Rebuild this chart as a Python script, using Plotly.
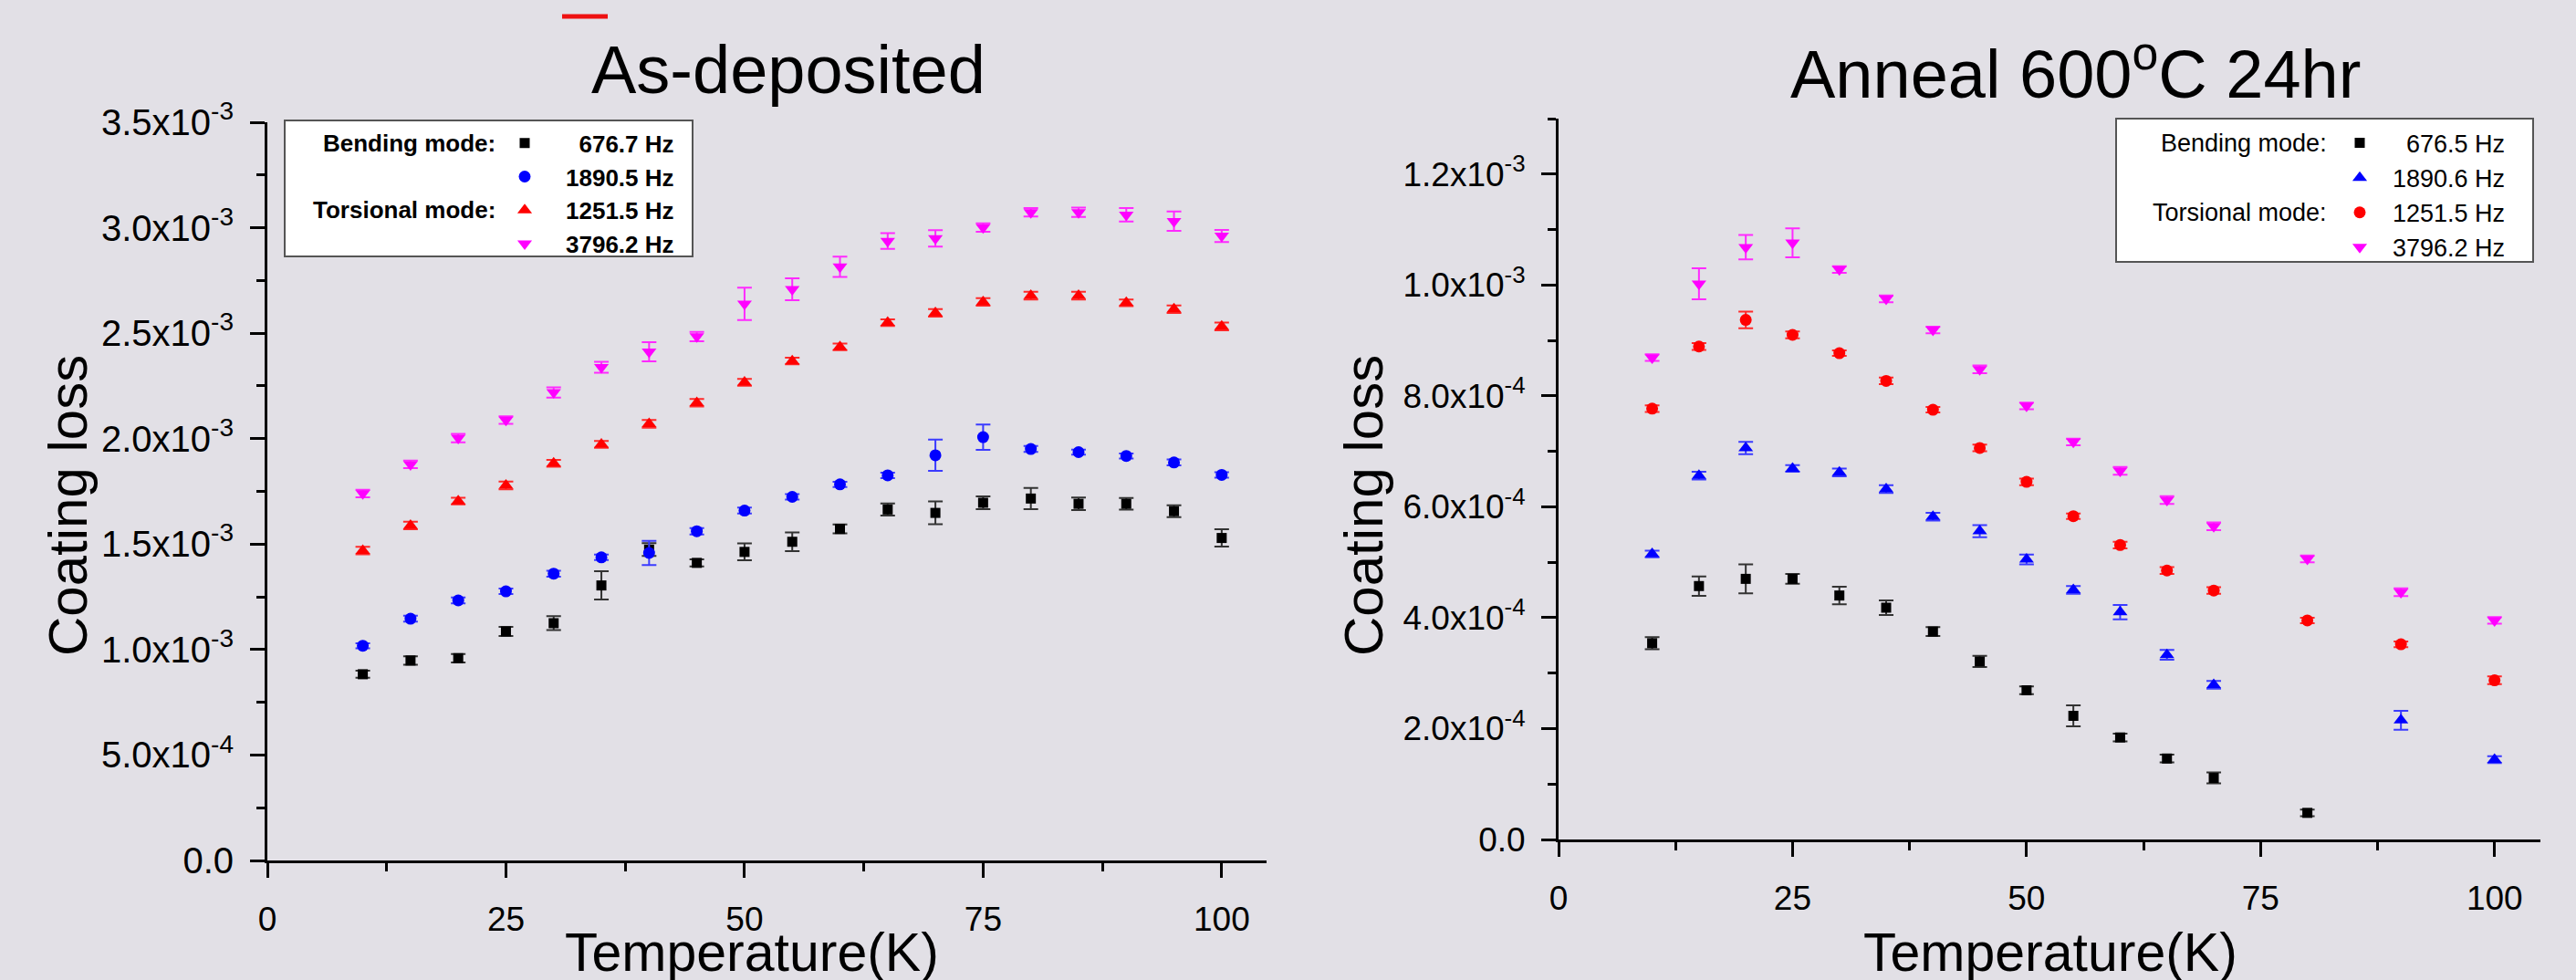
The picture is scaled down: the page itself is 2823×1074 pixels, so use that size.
import plotly.graph_objects as go

# ---------------- data: As-deposited ----------------
T_as = [10, 15, 20, 25, 30, 35, 40, 45, 50, 55, 60, 65, 70, 75, 80, 85, 90, 95, 100]

as_677 = [0.883e-3, 0.948e-3, 0.959e-3, 1.086e-3, 1.125e-3, 1.304e-3, 1.474e-3, 1.411e-3, 1.463e-3, 1.511e-3,
          1.572e-3, 1.664e-3, 1.648e-3, 1.696e-3, 1.716e-3, 1.691e-3, 1.691e-3, 1.656e-3, 1.529e-3]
as_677_err = [0.017e-3, 0.020e-3, 0.020e-3, 0.022e-3, 0.033e-3, 0.067e-3, 0.030e-3, 0.017e-3, 0.040e-3, 0.044e-3,
              0.021e-3, 0.029e-3, 0.054e-3, 0.030e-3, 0.050e-3, 0.030e-3, 0.028e-3, 0.028e-3, 0.041e-3]

as_1890 = [1.018e-3, 1.146e-3, 1.233e-3, 1.276e-3, 1.360e-3, 1.437e-3, 1.458e-3, 1.561e-3, 1.659e-3, 1.724e-3,
           1.783e-3, 1.826e-3, 1.921e-3, 2.007e-3, 1.951e-3, 1.936e-3, 1.918e-3, 1.887e-3, 1.828e-3]
as_1890_err = [0.012e-3, 0.014e-3, 0.014e-3, 0.013e-3, 0.014e-3, 0.013e-3, 0.057e-3, 0.015e-3, 0.014e-3, 0.013e-3,
               0.012e-3, 0.013e-3, 0.074e-3, 0.060e-3, 0.014e-3, 0.012e-3, 0.012e-3, 0.014e-3, 0.013e-3]

as_1251 = [1.469e-3, 1.588e-3, 1.704e-3, 1.778e-3, 1.883e-3, 1.973e-3, 2.070e-3, 2.170e-3, 2.267e-3, 2.368e-3,
           2.435e-3, 2.550e-3, 2.596e-3, 2.648e-3, 2.678e-3, 2.678e-3, 2.644e-3, 2.614e-3, 2.532e-3]
as_1251_err = [0.018e-3, 0.018e-3, 0.016e-3, 0.018e-3, 0.016e-3, 0.016e-3, 0.018e-3, 0.018e-3, 0.016e-3, 0.016e-3,
               0.016e-3, 0.016e-3, 0.018e-3, 0.018e-3, 0.018e-3, 0.018e-3, 0.016e-3, 0.018e-3, 0.018e-3]

as_3796 = [1.740e-3, 1.878e-3, 2.003e-3, 2.088e-3, 2.219e-3, 2.338e-3, 2.412e-3, 2.484e-3, 2.639e-3, 2.708e-3,
           2.815e-3, 2.937e-3, 2.949e-3, 3.001e-3, 3.073e-3, 3.073e-3, 3.061e-3, 3.031e-3, 2.961e-3]
as_3796_err = [0.018e-3, 0.018e-3, 0.020e-3, 0.018e-3, 0.024e-3, 0.026e-3, 0.045e-3, 0.022e-3, 0.077e-3, 0.052e-3,
               0.048e-3, 0.037e-3, 0.039e-3, 0.020e-3, 0.020e-3, 0.022e-3, 0.032e-3, 0.046e-3, 0.029e-3]

# ---------------- data: Anneal 600C 24hr ----------------
T_an_677 = [10, 15, 20, 25, 30, 35, 40, 45, 50, 55, 60, 65, 70, 80]
an_677 = [3.54e-4, 4.57e-4, 4.70e-4, 4.70e-4, 4.40e-4, 4.18e-4, 3.75e-4, 3.21e-4, 2.69e-4, 2.23e-4,
          1.84e-4, 1.46e-4, 1.11e-4, 0.48e-4]
an_677_err = [1.1e-5, 1.75e-5, 2.6e-5, 0.9e-5, 1.6e-5, 1.3e-5, 0.8e-5, 1.0e-5, 0.7e-5, 1.9e-5,
              0.7e-5, 0.7e-5, 1.0e-5, 0.6e-5]

T_an_1890 = [10, 15, 20, 25, 30, 35, 40, 45, 50, 55, 60, 65, 70, 90, 100]
an_1890 = [5.15e-4, 6.56e-4, 7.06e-4, 6.69e-4, 6.62e-4, 6.32e-4, 5.82e-4, 5.56e-4, 5.05e-4, 4.50e-4,
           4.10e-4, 3.33e-4, 2.79e-4, 2.15e-4, 1.44e-4]
an_1890_err = [0.6e-5, 0.7e-5, 1.1e-5, 0.6e-5, 0.7e-5, 0.7e-5, 0.7e-5, 1.1e-5, 0.9e-5, 0.7e-5,
               1.3e-5, 0.9e-5, 0.7e-5, 1.7e-5, 0.6e-5]

T_an = [10, 15, 20, 25, 30, 35, 40, 45, 50, 55, 60, 65, 70, 80, 90, 100]
an_1251 = [7.77e-4, 8.89e-4, 9.37e-4, 9.10e-4, 8.77e-4, 8.27e-4, 7.75e-4, 7.06e-4, 6.45e-4, 5.83e-4,
           5.31e-4, 4.85e-4, 4.49e-4, 3.95e-4, 3.52e-4, 2.87e-4]
an_1251_err = [0.6e-5, 0.6e-5, 1.5e-5, 0.6e-5, 0.5e-5, 0.6e-5, 0.5e-5, 0.6e-5, 0.6e-5, 0.5e-5,
               0.6e-5, 0.6e-5, 0.6e-5, 0.5e-5, 0.5e-5, 0.7e-5]

an_3796 = [8.69e-4, 10.02e-4, 10.68e-4, 10.76e-4, 10.28e-4, 9.75e-4, 9.19e-4, 8.48e-4, 7.82e-4, 7.17e-4,
           6.65e-4, 6.12e-4, 5.65e-4, 5.06e-4, 4.46e-4, 3.95e-4]
an_3796_err = [0.6e-5, 2.8e-5, 2.2e-5, 2.6e-5, 0.6e-5, 0.6e-5, 0.6e-5, 0.7e-5, 0.6e-5, 0.6e-5,
               0.7e-5, 0.7e-5, 0.7e-5, 0.6e-5, 0.7e-5, 0.6e-5]

# ---------------- tick labels ----------------
x_ticks = [0, 25, 50, 75, 100]
y_ticks_as = [0, 0.5e-3, 1.0e-3, 1.5e-3, 2.0e-3, 2.5e-3, 3.0e-3, 3.5e-3]
y_text_as = ["0.0", "5.0x10<sup>-4</sup>", "1.0x10<sup>-3</sup>", "1.5x10<sup>-3</sup>", "2.0x10<sup>-3</sup>",
             "2.5x10<sup>-3</sup>", "3.0x10<sup>-3</sup>", "3.5x10<sup>-3</sup>"]
y_ticks_an = [0, 2e-4, 4e-4, 6e-4, 8e-4, 1.0e-3, 1.2e-3]
y_text_an = ["0.0", "2.0x10<sup>-4</sup>", "4.0x10<sup>-4</sup>", "6.0x10<sup>-4</sup>", "8.0x10<sup>-4</sup>",
             "1.0x10<sup>-3</sup>", "1.2x10<sup>-3</sup>"]

W, H = 2823, 1074
BG = "#e2e0e6"
FONT = "Liberation Sans, Arial, Helvetica, sans-serif"
BLACK, BLUE, RED, MAGENTA = "#000000", "#0000ff", "#ff0000", "#ff00ff"
ERRC = {BLACK: "#333333", BLUE: "#3b3bff", RED: "#ff2a2a", MAGENTA: "#ff2aff"}


def px(x):
    return x / W


def py(y):
    return 1 - y / H


fig = go.Figure()


def add(xs, ys, es, name, color, symbol, size, xa, ya, legend):
    fig.add_trace(go.Scatter(
        x=xs, y=ys, mode="markers", name=name, xaxis=xa, yaxis=ya, legend=legend,
        marker=dict(color=color, symbol=symbol, size=size, line=dict(width=0)),
        error_y=dict(type="data", array=es, visible=True, color=ERRC[color], thickness=2, width=8),
    ))


FS = "\u2007"
add(T_as, as_677, as_677_err, FS + "676.7 Hz", BLACK, "square", 11, "x", "y", "legend")
add(T_as, as_1890, as_1890_err, "1890.5 Hz", BLUE, "circle", 13, "x", "y", "legend")
add(T_as, as_1251, as_1251_err, "1251.5 Hz", RED, "triangle-up", 14, "x", "y", "legend")
add(T_as, as_3796, as_3796_err, "3796.2 Hz", MAGENTA, "triangle-down", 14, "x", "y", "legend")

add(T_an_677, an_677, an_677_err, FS + "676.5 Hz", BLACK, "square", 11, "x2", "y2", "legend2")
add(T_an_1890, an_1890, an_1890_err, "1890.6 Hz", BLUE, "triangle-up", 14, "x2", "y2", "legend2")
add(T_an, an_1251, an_1251_err, "1251.5 Hz", RED, "circle", 13, "x2", "y2", "legend2")
add(T_an, an_3796, an_3796_err, "3796.2 Hz", MAGENTA, "triangle-down", 14, "x2", "y2", "legend2")


def axis_common(fs):
    return dict(
        showline=True, linewidth=3, linecolor="black", ticks="outside", ticklen=16, tickwidth=3,
        tickcolor="black", showgrid=False, zeroline=False, automargin=False,
        tickfont=dict(size=fs, family=FONT, color="black"),
    )


fig.update_layout(
    width=W, height=H, margin=dict(l=0, r=0, t=0, b=0, autoexpand=False),
    paper_bgcolor=BG, plot_bgcolor="rgba(0,0,0,0)",
    font=dict(family=FONT, color="black"),
    xaxis=dict(domain=[px(293), px(1388)], range=[0, 104.7], anchor="y", tickmode="array", tickvals=x_ticks,
               ticklabelstandoff=14,
               minor=dict(dtick=12.5, tick0=0, ticks="outside", ticklen=9, tickwidth=3, tickcolor="black"),
               **axis_common(37)),
    yaxis=dict(domain=[py(943), py(134)], range=[0, 3.5e-3], anchor="x", tickmode="array", tickvals=y_ticks_as,
               ticktext=y_text_as, ticklabelstandoff=10,
               minor=dict(dtick=0.25e-3, tick0=0, ticks="outside", ticklen=9, tickwidth=3, tickcolor="black"),
               **axis_common(40)),
    xaxis2=dict(domain=[px(1708), px(2784)], range=[0, 104.9], anchor="y2", tickmode="array", tickvals=x_ticks,
                ticklabelstandoff=14,
                minor=dict(dtick=12.5, tick0=0, ticks="outside", ticklen=9, tickwidth=3, tickcolor="black"),
                **axis_common(37)),
    yaxis2=dict(domain=[py(920), py(130)], range=[0, 1.3e-3], anchor="x2", tickmode="array", tickvals=y_ticks_an,
                ticktext=y_text_an, ticklabelstandoff=10,
                minor=dict(dtick=1e-4, tick0=0, ticks="outside", ticklen=9, tickwidth=3, tickcolor="black"),
                **axis_common(37)),
    legend=dict(x=px(530), y=py(133.3), xanchor="left", yanchor="top", bgcolor="rgba(0,0,0,0)", borderwidth=0,
                itemwidth=80, font=dict(size=26, family=FONT, color="black", weight="bold"), traceorder="normal"),
    legend2=dict(x=px(2550), y=py(132.5), xanchor="left", yanchor="top", bgcolor="rgba(0,0,0,0)", borderwidth=0,
                 itemwidth=62, font=dict(size=27, family=FONT, color="black"), traceorder="normal"),
    showlegend=True,
)

# legend frames
fig.add_shape(type="rect", xref="paper", yref="paper", x0=px(312), x1=px(759), y0=py(281), y1=py(132),
              fillcolor="white", line=dict(color="#555555", width=2), layer="above")
fig.add_shape(type="rect", xref="paper", yref="paper", x0=px(2319), x1=px(2776), y0=py(287), y1=py(130),
              fillcolor="white", line=dict(color="#555555", width=2), layer="above")
# small red mark at top
fig.add_shape(type="line", xref="paper", yref="paper", x0=px(616), x1=px(666), y0=py(18), y1=py(18),
              line=dict(color="#ee1111", width=5))

ann = []
# titles
ann.append(dict(text="As-deposited", x=px(864), y=py(76), font=dict(size=74)))
ann.append(dict(text="Anneal 600<sup>o</sup>C 24hr", x=px(2274), y=py(76), font=dict(size=74)))
# axis titles
ann.append(dict(text="Coating loss", x=px(74), y=py(554), textangle=-90, font=dict(size=60)))
ann.append(dict(text="Coating loss", x=px(1494), y=py(554), textangle=-90, font=dict(size=60)))
ann.append(dict(text="Temperature(K)", x=px(824), y=py(1044), font=dict(size=59)))
ann.append(dict(text="Temperature(K)", x=px(2247), y=py(1044), font=dict(size=59)))
# legend row labels
ann.append(dict(text="Bending mode:", x=px(545), y=py(156.7), xanchor="right",
                font=dict(size=26, weight="bold")))
ann.append(dict(text="Torsional mode:", x=px(545), y=py(230.3), xanchor="right",
                font=dict(size=26, weight="bold")))
ann.append(dict(text="Bending mode:", x=px(2552), y=py(156.7), xanchor="right", font=dict(size=27)))
ann.append(dict(text="Torsional mode:", x=px(2552), y=py(232.9), xanchor="right", font=dict(size=27)))

for a in ann:
    a.setdefault("xanchor", "center")
    a["yanchor"] = "middle"
    a["xref"] = "paper"
    a["yref"] = "paper"
    a["showarrow"] = False
    a["font"] = dict(family=FONT, color="black", **a["font"])
    fig.add_annotation(**a)

fig.write_html(
    "out.html",
    config={"displayModeBar": False},
    post_script="document.body.style.margin='0';document.body.style.background='" + BG + "';"
                "document.body.style.overflow='hidden';",
)
